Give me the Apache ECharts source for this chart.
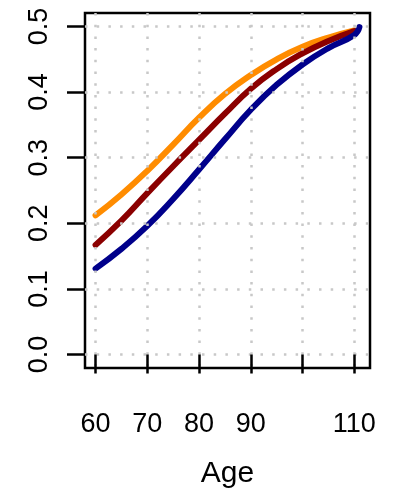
<!DOCTYPE html>
<html>
<head>
<meta charset="utf-8">
<script src="https://cdn.jsdelivr.net/npm/echarts@6/dist/echarts.min.js"></script>
<style>
html,body{margin:0;padding:0;background:#fff;}
#chart{width:397px;height:494px;}
</style>
</head>
<body>
<div id="chart"></div>
<script>
// Data
const ages = [60, 65, 70, 75, 80, 85, 90, 95, 100, 105, 110];
const blueAges = [60, 65, 70, 75, 80, 85, 90, 95, 100, 105, 110, 111];
const orangeVals = [0.212, 0.244, 0.280, 0.320, 0.361, 0.397, 0.426, 0.450, 0.469, 0.483, 0.494];
const redVals    = [0.167, 0.204, 0.246, 0.287, 0.327, 0.367, 0.405, 0.435, 0.459, 0.478, 0.493];
const blueVals   = [0.131, 0.161, 0.196, 0.237, 0.282, 0.328, 0.373, 0.411, 0.442, 0.467, 0.487, 0.499];
const xTicks = [60, 70, 80, 90, 100, 110];
const xTickLabels = [60, 70, 80, 90, 110];
const yTicks = [0, 0.1, 0.2, 0.3, 0.4, 0.5];
const seriesColors = ['#FF8C00', '#8B0000', '#00008B'];

const pairs = (xs, ys) => xs.map((x, i) => [x, ys[i]]);

const chart = echarts.init(document.getElementById('chart'), null, {renderer: 'canvas'});
const FONT = 'Liberation Sans, Arial, Helvetica, sans-serif';
const gridLine = {show: true, lineStyle: {color: '#c8c8c8', type: [2.5, 9.2], width: 2.5}};

function mkSeries(name, data, color) {
  return {
    name: name, type: 'line', data: data, smooth: 0.5,
    showSymbol: false, symbol: 'none',
    lineStyle: {color: color, width: 6, cap: 'round', join: 'round'},
    z: 2, animation: false
  };
}

chart.setOption({
  animation: false,
  grid: {left: 85, right: 27, top: 13, bottom: 125, show: true, borderColor: '#000', borderWidth: 2.5, backgroundColor: 'transparent'},
  xAxis: {
    type: 'value', min: 57.96, max: 113.04, z: 3,
    axisLine: {show: false},
    axisTick: {show: true, length: 19, lineStyle: {color: '#000', width: 2.5}, customValues: xTicks},
    axisLabel: {customValues: xTickLabels, fontSize: 27, color: '#000', margin: 43, fontFamily: FONT},
    splitLine: gridLine,
    name: 'Age', nameLocation: 'middle', nameGap: 91,
    nameTextStyle: {fontSize: 30, color: '#000', fontFamily: FONT}
  },
  yAxis: {
    type: 'value', min: -0.0205, max: 0.5205, z: 3,
    axisLine: {show: false},
    axisTick: {show: true, length: 18, lineStyle: {color: '#000', width: 2.5}, customValues: yTicks},
    axisLabel: {customValues: yTicks, fontSize: 27, color: '#000', rotate: 90, margin: 32, fontFamily: FONT,
      formatter: v => Number(v).toFixed(1)},
    splitLine: gridLine
  },
  series: [
    mkSeries('orange', pairs(ages, orangeVals), seriesColors[0]),
    mkSeries('red', pairs(ages, redVals), seriesColors[1]),
    mkSeries('blue', pairs(blueAges, blueVals), seriesColors[2])
  ]
});
</script>
</body>
</html>
